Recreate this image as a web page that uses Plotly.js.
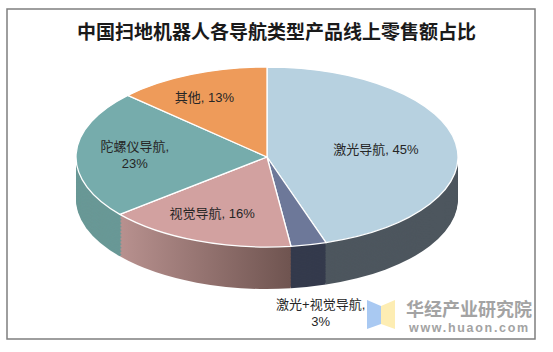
<!DOCTYPE html>
<html><head><meta charset="utf-8">
<script src="https://cdn.plot.ly/plotly-3.0.1.min.js"></script>
<style>html,body{margin:0;padding:0;background:#fff;overflow:hidden;} #chart{width:553px;height:352px;}</style>
</head><body><div id="chart"></div>
<script>
// ---- data ----
const categories = ['激光导航', '激光+视觉导航', '视觉导航', '陀螺仪导航', '其他'];
const shares = [45, 3, 16, 23, 13];
const labelTemplates = ['%{label}, %{value}%', '%{label},<br>%{value}%', '%{label}, %{value}%', '%{label},<br>%{value}%', '%{label}, %{value}%'];
const labelPositions = ['inside', 'outside', 'inside', 'inside', 'inside'];
const topColors = ['#b7d1e0', '#6d7899', '#d2a1a0', '#76acac', '#ee9b5a'];
const sideColors = ['#4d565e', '#343a4c', '#92706d', '#699896', '#b0703e'];

const chartTitle = '中国扫地机器人各导航类型产品线上零售额占比';
const brandName = '华经产业研究院';
const brandUrl = 'www.huaon.com';

// ---- geometry of the tilted pie ----
const W = 553, H = 352;
const CX = 267, CY = 157, RX = 191, RY = 90, DEPTH = 42, LAYERS = 30;
const LABEL_SPREAD = 1.15;
const DOMAIN = {x: [0.2, 0.8], y: [0.05, 0.9]};
const LABEL_FONT = {family: '"Liberation Sans", Arial, "Noto Sans CJK SC", sans-serif', size: 13, color: '#262626'};

const data = [];
for (let k = 0; k < LAYERS; k++) {
  data.push({
    type: 'pie', values: shares, labels: categories, sort: false, direction: 'clockwise', rotation: 0,
    domain: DOMAIN, marker: {colors: sideColors, line: {width: 0}}, textinfo: 'none',
    hoverinfo: 'skip', showlegend: false
  });
}
data.push({
  type: 'pie', values: shares, labels: categories, sort: false, direction: 'clockwise', rotation: 0,
  domain: DOMAIN, marker: {colors: topColors, line: {color: '#ffffff', width: 1.3}},
  texttemplate: labelTemplates, textposition: labelPositions, insidetextorientation: 'horizontal',
  textfont: LABEL_FONT, insidetextfont: LABEL_FONT, outsidetextfont: LABEL_FONT,
  hoverinfo: 'skip', showlegend: false
});

const px = x => x / W, py = y => 1 - y / H;
const layout = {
  width: W, height: H, margin: {l: 0, r: 0, t: 0, b: 0},
  paper_bgcolor: '#ffffff', plot_bgcolor: '#ffffff', showlegend: false,
  title: {text: '<b>' + chartTitle + '</b>', x: 0.5, xanchor: 'center', y: py(32), yanchor: 'middle',
    font: {family: '"Noto Sans CJK SC", sans-serif', size: 19, color: '#1a1a1a'}},
  shapes: [
    {type: 'rect', xref: 'paper', yref: 'paper', x0: px(7), x1: px(535), y0: py(339), y1: py(9),
      line: {color: '#7f7f7f', width: 1.5}, fillcolor: 'rgba(0,0,0,0)'},
    {type: 'path', xref: 'paper', yref: 'paper', line: {width: 0}, fillcolor: '#a9c9f2',
      path: `M${px(367)},${py(300)} L${px(381)},${py(306)} L${px(381)},${py(324)} L${px(367)},${py(329)} Z`},
    {type: 'path', xref: 'paper', yref: 'paper', line: {width: 0}, fillcolor: '#fdedb3',
      path: `M${px(381)},${py(306)} L${px(395)},${py(300)} L${px(395)},${py(329)} L${px(381)},${py(324)} Z`}
  ],
  annotations: [
    {text: '<b>' + brandName + '</b>', xref: 'paper', yref: 'paper', x: px(469), y: py(308), showarrow: false,
      xanchor: 'center', yanchor: 'middle', font: {family: '"Noto Sans CJK SC", sans-serif', size: 18, color: '#a3a3a3'}},
    {text: '<b>' + brandUrl + '</b>', xref: 'paper', yref: 'paper', x: px(469), y: py(328), showarrow: false,
      xanchor: 'center', yanchor: 'middle', font: {family: '"Liberation Sans", Arial, sans-serif', size: 12.5, color: '#a3a3a3'}}
  ]
};

const gd = document.getElementById('chart');
Plotly.newPlot(gd, data, layout, {staticPlot: true, displayModeBar: false}).then(tilt);

function tilt() {
  const traces = gd.querySelectorAll('.pielayer .trace');
  const top = traces[traces.length - 1];
  let minX = Infinity, minY = Infinity, maxX = -Infinity, maxY = -Infinity;
  top.querySelectorAll('path.surface').forEach(p => {
    const b = p.getBBox();
    minX = Math.min(minX, b.x); minY = Math.min(minY, b.y);
    maxX = Math.max(maxX, b.x + b.width); maxY = Math.max(maxY, b.y + b.height);
  });
  const cx = (minX + maxX) / 2, cy = (minY + maxY) / 2, r = (maxX - minX) / 2;
  const sx = RX / r, sy = RY / r;
  const mat = off => `matrix(${sx},0,0,${sy},${CX - sx * cx},${CY + off - sy * cy})`;

  // gradient for the side of the 视觉导航 slice
  const svg = gd.querySelector('svg.main-svg');
  const defs = svg.querySelector('defs');
  const NS = 'http://www.w3.org/2000/svg';
  const grad = document.createElementNS(NS, 'linearGradient');
  grad.setAttribute('id', 'sideGrad2');
  grad.setAttribute('x1', '0'); grad.setAttribute('x2', '1'); grad.setAttribute('y1', '0'); grad.setAttribute('y2', '0');
  [['0', '#b8918f'], ['1', '#6f5450']].forEach(([o, c]) => {
    const s = document.createElementNS(NS, 'stop'); s.setAttribute('offset', o); s.setAttribute('stop-color', c); grad.appendChild(s);
  });
  defs.appendChild(grad);

  traces.forEach((t, k) => {
    const isTop = k === traces.length - 1;
    const off = isTop ? 0 : DEPTH * (LAYERS - k) / LAYERS;
    t.querySelectorAll('path.surface').forEach((p, i) => {
      p.setAttribute('transform', mat(off));
      p.style.vectorEffect = 'non-scaling-stroke';
      if (!isTop && i === 2) p.style.fill = 'url(#sideGrad2)';
    });
  });

  // slice mid-angles from the data
  const total = shares.reduce((a, b) => a + b, 0);
  let acc = 0;
  const mids = shares.map(v => { const m = (acc + v / 2) / total * 2 * Math.PI; acc += v; return m; });

  // move labels to their tilted positions
  top.querySelectorAll('g.slicetext').forEach((g, i) => {
    const b = g.getBoundingClientRect();
    const x0 = b.left + b.width / 2, y0 = b.top + b.height / 2;
    let x1, y1;
    if (labelPositions[i] === 'outside') {
      const a = mids[i];
      x1 = CX + RX * Math.sin(a) + 12;
      y1 = CY - RY * Math.cos(a) + DEPTH + 26;
    } else {
      x1 = CX + (x0 - cx) * sx * LABEL_SPREAD;
      y1 = CY + (y0 - cy) * sy;
    }
    const prev = g.getAttribute('transform') || '';
    g.setAttribute('transform', `translate(${x1 - x0},${y1 - y0}) ${prev}`);
  });
  top.querySelectorAll('path.textline').forEach(p => p.style.display = 'none');

  // letter spacing of the url line
  const ann = gd.querySelectorAll('.annotation-text');
  if (ann.length > 1) { ann[1].setAttribute('letter-spacing', '1.7'); }
}
</script>
</body></html>
